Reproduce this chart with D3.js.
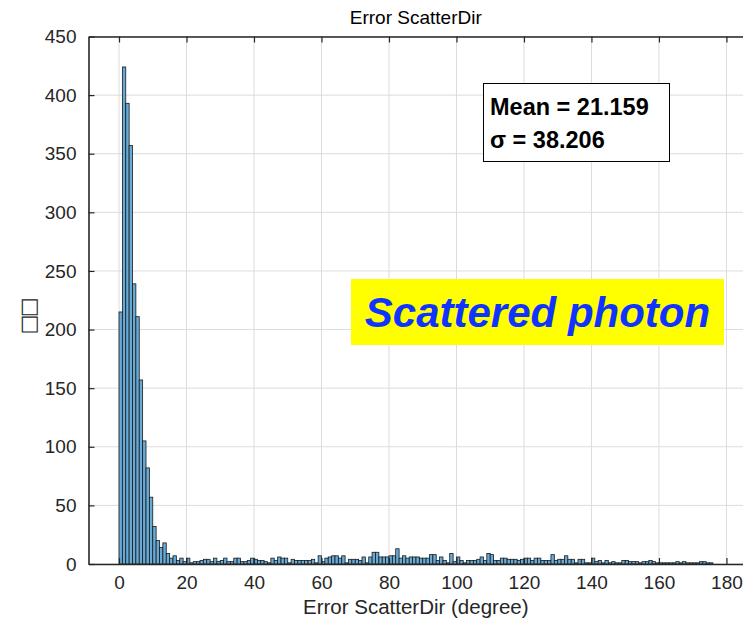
<!DOCTYPE html>
<html>
<head>
<meta charset="utf-8">
<script src="https://cdn.jsdelivr.net/npm/d3@7"></script>
<style>
  html, body { margin: 0; padding: 0; background: #fff; }
  svg { display: block; font-family: "Liberation Sans", Arial, Helvetica, sans-serif; }
</style>
</head>
<body>
<svg id="chart" width="743" height="629"></svg>
<script>
// ---- data (bin width 1 degree, bins start at 0) ----
const binStart = 0;
const binWidth = 1;
const counts = [
  215,424,393,357,239,211,157,105,82,57,
  32,20,14,18,9,5,7,3,5,2,
  5,1,2,2,3,4,4,2,5,2,
  3,5,2,2,5,5,2,2,3,5,
  4,3,3,2,1,5,3,6,5,5,
  1,4,3,3,3,3,3,4,1,7,
  2,5,6,7,7,5,7,1,4,4,
  4,3,6,1,6,10,10,6,6,6,
  7,7,13,5,7,5,6,6,6,5,
  5,5,8,8,3,6,3,1,9,2,
  6,3,1,3,3,3,4,6,3,9,
  8,3,3,5,5,4,4,4,3,4,
  5,5,3,5,5,3,3,3,8,3,
  4,4,7,4,4,1,4,4,1,1,
  5,2,3,1,3,1,2,1,1,3,
  3,2,2,2,1,2,2,3,2,1,
  1,1,1,1,1,2,1,2,1,1,
  1,1,2,2,1,1
];
const xTicks = [0,20,40,60,80,100,120,140,160,180];
const yTicks = [0,50,100,150,200,250,300,350,400,450];
const xDomain = [-9.04, 185.5];
const yDomain = [0, 450];
const titleText = "Error ScatterDir";
const xLabelText = "Error ScatterDir (degree)";
const yLabelText = "\u25A1\u25A1";
const statsLines = ["Mean = 21.159", "\u03C3 = 38.206"];
const noteText = "Scattered photon";

// ---- layout ----
const svg = d3.select("#chart");
const L = 88.5, T = 36.5, R = 745, B = 564;
const x = d3.scaleLinear().domain(xDomain).range([L, R]);
const y = d3.scaleLinear().domain(yDomain).range([B, T]);
const axisColor = "#262626";
const tickLen = 6;

const bins = counts.map((c, i) => ({x0: binStart + i * binWidth, x1: binStart + (i + 1) * binWidth, c}));

// grid
const grid = svg.append("g");
grid.selectAll("line.vg").data(xTicks).join("line")
  .attr("x1", d => x(d)).attr("x2", d => x(d))
  .attr("y1", T).attr("y2", B)
  .attr("stroke", "#dcdcdc").attr("stroke-width", 1);
grid.selectAll("line.hg").data(yTicks).join("line")
  .attr("x1", L).attr("x2", R)
  .attr("y1", d => y(d)).attr("y2", d => y(d))
  .attr("stroke", "#dcdcdc").attr("stroke-width", 1);

// bars
svg.append("g").selectAll("rect").data(bins.filter(b => b.c > 0)).join("rect")
  .attr("x", d => x(d.x0))
  .attr("width", d => x(d.x1) - x(d.x0))
  .attr("y", d => y(d.c))
  .attr("height", d => y(0) - y(d.c))
  .attr("fill", "#66aad7")
  .attr("stroke", "#1a1a1a")
  .attr("stroke-width", 0.8);

// axes (MATLAB style: ticks inward)
const xAxis = d3.axisBottom(x).tickValues(xTicks).tickSizeInner(-tickLen).tickSizeOuter(0).tickPadding(12);
const yAxis = d3.axisLeft(y).tickValues(yTicks).tickSizeInner(-tickLen).tickSizeOuter(0).tickPadding(12);
const gx = svg.append("g").attr("transform", `translate(0,${B})`).call(xAxis);
const gy = svg.append("g").attr("transform", `translate(${L},0)`).call(yAxis);
[gx, gy].forEach(g => {
  g.select(".domain").attr("stroke", axisColor).attr("stroke-width", 1.6);
  g.selectAll(".tick line").attr("stroke", axisColor).attr("stroke-width", 1.2);
  g.selectAll(".tick text").attr("fill", axisColor).attr("font-size", 19)
    .attr("font-family", "'Liberation Sans', Arial, sans-serif");
});
gx.selectAll(".tick text").attr("dy", "0.71em");
// top ticks + top border
const topAxis = d3.axisTop(x).tickValues(xTicks).tickSizeInner(-tickLen).tickSizeOuter(0).tickFormat("");
const gt = svg.append("g").attr("transform", `translate(0,${T})`).call(topAxis);
gt.select(".domain").attr("stroke", axisColor).attr("stroke-width", 1.6);
gt.selectAll(".tick line").attr("stroke", axisColor).attr("stroke-width", 1.2);

// title & labels
svg.append("text").attr("x", (L + 743) / 2).attr("y", 24)
  .attr("text-anchor", "middle").attr("font-size", 19).attr("fill", "#000").text(titleText);
svg.append("text").attr("x", (L + 743) / 2).attr("y", 614)
  .attr("text-anchor", "middle").attr("font-size", 20.5).attr("fill", axisColor).text(xLabelText);
svg.append("text").attr("transform", `translate(34.5,${(T + B) / 2 + 17}) rotate(-90)`)
  .attr("text-anchor", "middle").attr("font-size", 21).attr("letter-spacing", "-2.5px")
  .attr("fill", axisColor)
  .attr("font-family", "'DejaVu Sans', sans-serif").text(yLabelText);

// stats box
const sb = svg.append("g");
sb.append("rect").attr("x", 483.5).attr("y", 83.5).attr("width", 186).attr("height", 78)
  .attr("fill", "#fff").attr("stroke", "#000").attr("stroke-width", 1);
sb.selectAll("text").data(statsLines).join("text")
  .attr("x", 490).attr("y", (d, i) => 115 + i * 32.5)
  .attr("font-size", 23.5).attr("font-weight", "bold").attr("fill", "#000").text(d => d);

// yellow annotation
const nb = svg.append("g");
nb.append("rect").attr("x", 351).attr("y", 279).attr("width", 373).attr("height", 66).attr("fill", "#ffff00");
nb.append("text").attr("x", 537.5).attr("y", 326.5).attr("text-anchor", "middle")
  .attr("font-size", 42).attr("font-weight", "bold").attr("font-style", "italic")
  .attr("fill", "#0f34ff").text(noteText);
</script>
</body>
</html>
